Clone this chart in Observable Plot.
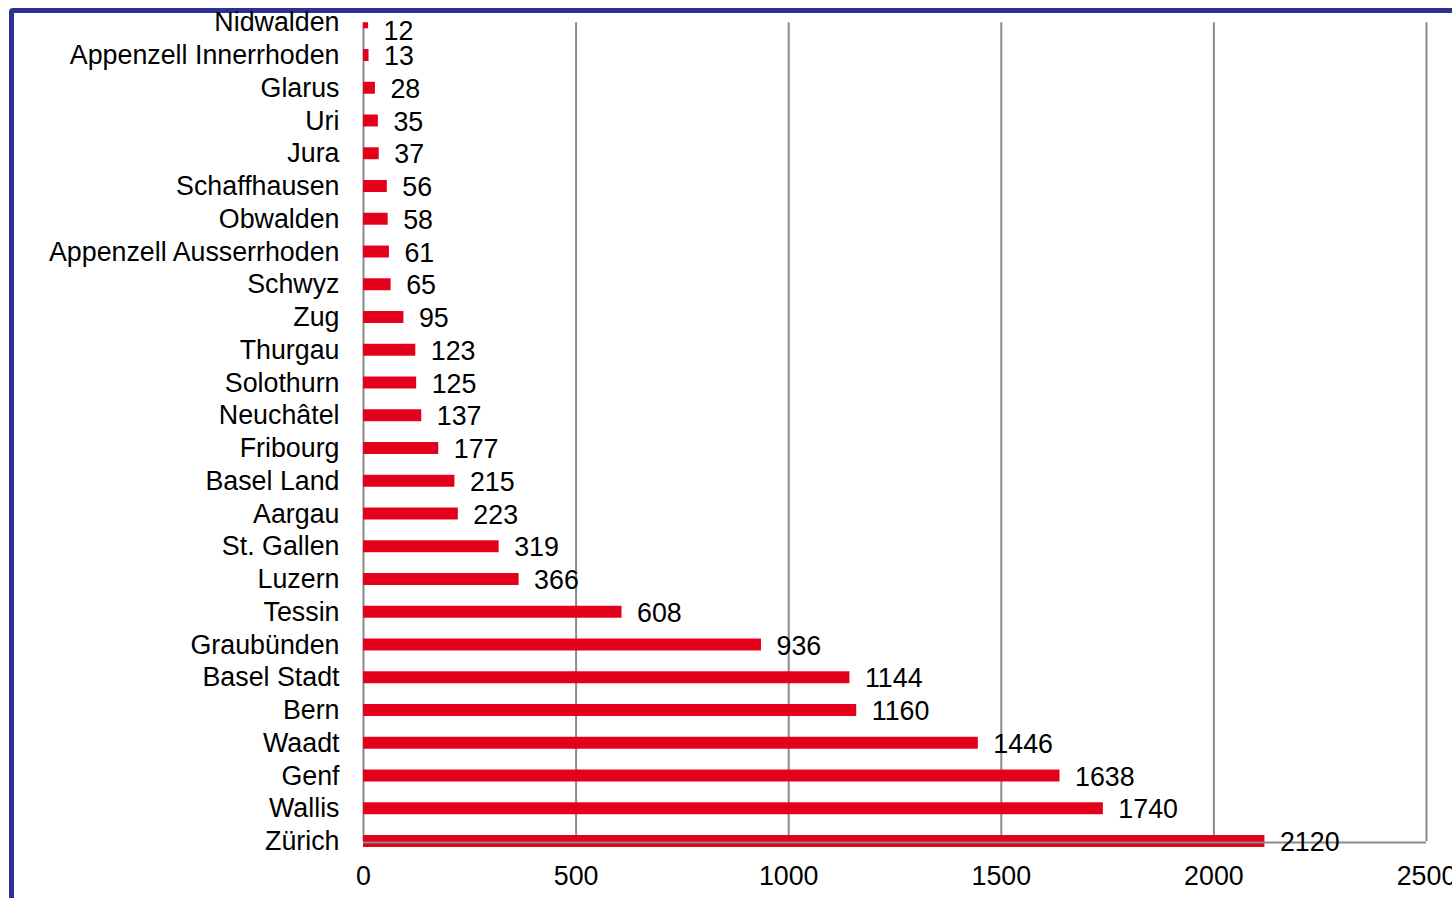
<!DOCTYPE html>
<html>
<head>
<meta charset="utf-8">
<script src="https://cdn.jsdelivr.net/npm/d3@7"></script>
<script src="https://cdn.jsdelivr.net/npm/@observablehq/plot@0.6"></script>
<style>
  html, body { margin: 0; padding: 0; background: #fff; overflow: hidden; }
  #wrap { position: relative; width: 1452px; height: 898px; }
  #border { position: absolute; left: 9px; top: 8px; width: 1600px; height: 1000px;
            border: 5px solid #2e3192; border-radius: 4px; box-sizing: border-box; }
  #chart { position: absolute; left: 0; top: 0; }
  #chart svg { overflow: visible; }
</style>
</head>
<body>
<div id="wrap">
  <div id="border"></div>
  <div id="chart"></div>
</div>
<script>
const cantons = ["Nidwalden", "Appenzell Innerrhoden", "Glarus", "Uri", "Jura", "Schaffhausen",
  "Obwalden", "Appenzell Ausserrhoden", "Schwyz", "Zug", "Thurgau", "Solothurn", "Neuchâtel",
  "Fribourg", "Basel Land", "Aargau", "St. Gallen", "Luzern", "Tessin", "Graubünden",
  "Basel Stadt", "Bern", "Waadt", "Genf", "Wallis", "Zürich"];
const values = [12, 13, 28, 35, 37, 56, 58, 61, 65, 95, 123, 125, 137, 177, 215, 223, 319, 366,
  608, 936, 1144, 1160, 1446, 1638, 1740, 2120];
const xTicks = [0, 500, 1000, 1500, 2000, 2500];

const data = cantons.map((c, i) => ({canton: c, value: values[i]}));
const first = cantons[0];
const last = cantons[cantons.length - 1];

const red = "#e3001b";
const grey = "#8a8a8a";
const W = 1452, H = 898;
const mTop = 22.25, mBottom = 57;
const half = 16.375;

const chart = Plot.plot({
  width: W,
  height: H,
  marginLeft: 363,
  marginRight: 26,
  marginTop: mTop,
  marginBottom: mBottom,
  style: {background: "transparent", fontFamily: "'Liberation Sans', Arial, sans-serif", fontSize: "26.8px", color: "#000"},
  x: {domain: [0, 2500], label: null},
  y: {domain: cantons, type: "band", padding: 0, round: false, range: [mTop - half, H - mBottom + half], label: null},
  marks: [
    Plot.ruleX(xTicks, {stroke: grey, strokeWidth: 2}),
    Plot.barX(data, {filter: d => d.canton === first, x: "value", y: "canton", fill: red, insetTop: 10.4, insetBottom: 10.4, clip: true}),
    Plot.barX(data, {filter: d => d.canton !== first, x: "value", y: "canton", fill: red, insetTop: 10.4, insetBottom: 10.4}),
    Plot.ruleY([last], {y: d => d, stroke: grey, strokeWidth: 2, dy: 1}),
    Plot.text(data, {filter: d => d.canton === first, x: "value", y: "canton", text: d => String(d.value), textAnchor: "start", dx: 15, dy: 9, fill: "#000"}),
    Plot.text(data, {filter: d => d.canton !== first, x: "value", y: "canton", text: d => String(d.value), textAnchor: "start", dx: 15, dy: 1, fill: "#000"}),
    Plot.axisX({ticks: xTicks, tickSize: 0, tickPadding: 24, tickFormat: d => String(d), label: null}),
    Plot.axisY({tickSize: 0, tickPadding: 24, label: null})
  ]
});
document.getElementById("chart").appendChild(chart);
</script>
</body>
</html>
